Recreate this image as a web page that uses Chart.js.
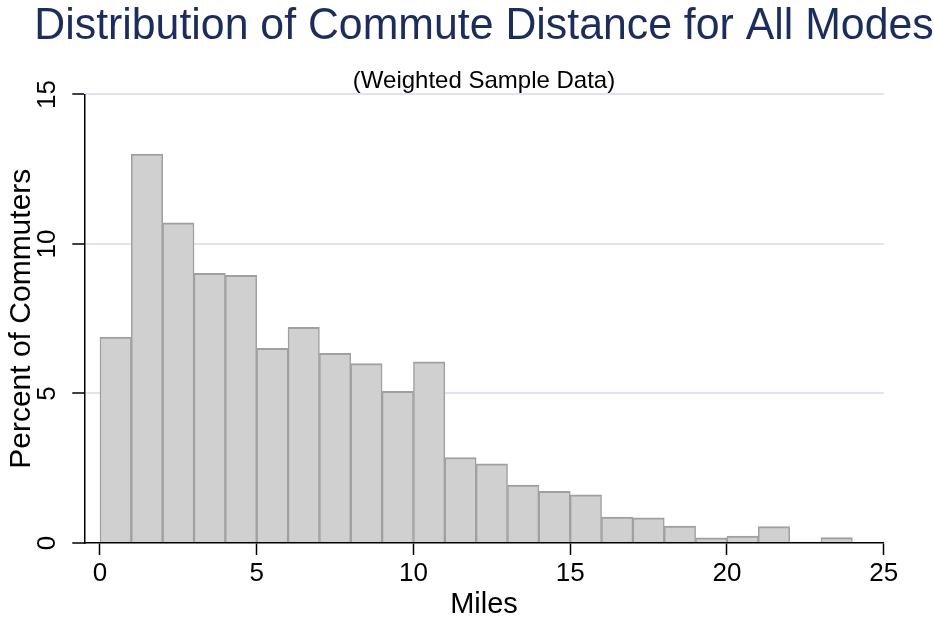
<!DOCTYPE html>
<html>
<head>
<meta charset="utf-8">
<script src="https://cdn.jsdelivr.net/npm/chart.js@4.4.1/dist/chart.umd.min.js"></script>
<style>
  html, body { margin: 0; padding: 0; background: #ffffff; }
  #wrap { width: 934px; height: 621px; }
</style>
</head>
<body>
<div id="wrap"><canvas id="chart" width="934" height="621"></canvas></div>
<script>
// Histogram bins: start of each one-mile bin
const binStarts = [0, 1, 2, 3, 4, 5, 6, 7, 8, 9, 10, 11, 12, 13, 14, 15, 16, 17, 18, 19, 20, 21, 22, 23];
const binWidth = 1;
// Percent of commuters in each bin
const percents = [6.89, 13.01, 10.71, 9.02, 8.95, 6.51, 7.21, 6.34, 6.00, 5.07, 6.06, 2.86,
                  2.65, 1.94, 1.73, 1.61, 0.87, 0.84, 0.57, 0.17, 0.23, 0.55, 0.03, 0.18];
// Axis tick values
const xTicks = [0, 5, 10, 15, 20, 25];
const yTicks = [0, 5, 10, 15];

const FONT = "'Liberation Sans', Arial, Helvetica, sans-serif";
Chart.defaults.font.family = FONT;
Chart.defaults.color = '#000000';

const points = binStarts.map((s, i) => ({ x: s + binWidth / 2, y: percents[i] }));

// The title is centred over the plot area but is wider than it,
// so let its box spread beyond the plot on both sides.
const widenTitle = {
  id: 'widenTitle',
  afterLayout(chart) {
    const t = chart.titleBlock;
    if (!t) return;
    const extra = 50;
    t.left -= extra;
    t.right += extra;
    t.width += 2 * extra;
  }
};

new Chart(document.getElementById('chart'), {
  type: 'bar',
  data: {
    datasets: [{
      data: points,
      backgroundColor: '#d0d0d0',
      borderColor: '#a0a0a0',
      borderWidth: { top: 2, left: 1.5, right: 1.5, bottom: 0 },
      borderSkipped: false,
      barPercentage: 1,
      categoryPercentage: 1
    }]
  },
  plugins: [widenTitle],
  options: {
    responsive: false,
    animation: false,
    events: [],
    layout: { padding: { left: 0, right: 50.3, top: 0, bottom: 0 } },
    plugins: {
      legend: { display: false },
      tooltip: { enabled: false },
      title: {
        display: true,
        fullSize: false,
        text: 'Distribution of Commute Distance for All Modes',
        color: '#1c2d5c',
        font: { size: 44.5, weight: 'normal', lineHeight: 1.15 },
        padding: { top: 0.7, bottom: 0 }
      },
      subtitle: {
        display: true,
        fullSize: false,
        text: '(Weighted Sample Data)',
        color: '#000000',
        font: { size: 24, weight: 'normal', lineHeight: 1.0 },
        padding: { top: 17.1, bottom: 1.5 }
      }
    },
    scales: {
      x: {
        type: 'linear',
        min: -0.5,
        max: 25,
        offset: false,
        z: 1,
        afterBuildTicks: s => { s.ticks = xTicks.map(v => ({ value: v })); },
        afterFit: s => { s.height = 78; s.paddingLeft = 0; s.paddingRight = 0; },
        grid: {
          offset: false,
          drawOnChartArea: false,
          drawTicks: true,
          tickLength: 12,
          tickColor: '#000000',
          tickWidth: 1.5
        },
        border: { display: true, color: '#000000', width: 1.5 },
        ticks: {
          maxRotation: 0,
          padding: 3.7,
          color: '#000000',
          font: { size: 26 }
        },
        title: {
          display: true,
          text: 'Miles',
          color: '#000000',
          font: { size: 29, lineHeight: 1.0 },
          padding: { top: 0, bottom: 1.5 }
        }
      },
      y: {
        min: 0,
        max: 15,
        afterBuildTicks: s => { s.ticks = yTicks.map(v => ({ value: v })); },
        afterFit: s => { s.width = 84.3; s.paddingTop = 0; s.paddingBottom = 0; },
        grid: {
          color: c => (c.tick && c.tick.value === 0) ? 'rgba(0,0,0,0)' : '#e0e4ee',
          lineWidth: 2,
          drawTicks: true,
          tickLength: 12,
          tickColor: '#000000',
          tickWidth: 1.5
        },
        border: { display: true, color: '#000000', width: 1.5 },
        ticks: {
          minRotation: 90,
          maxRotation: 90,
          crossAlign: 'center',
          padding: 9.8,
          color: '#000000',
          font: { size: 26 }
        },
        title: {
          display: true,
          text: 'Percent of Commuters',
          color: '#000000',
          font: { size: 30, lineHeight: 1.2 },
          padding: { top: 3.6, bottom: 0 }
        }
      }
    }
  }
});
</script>
</body>
</html>
